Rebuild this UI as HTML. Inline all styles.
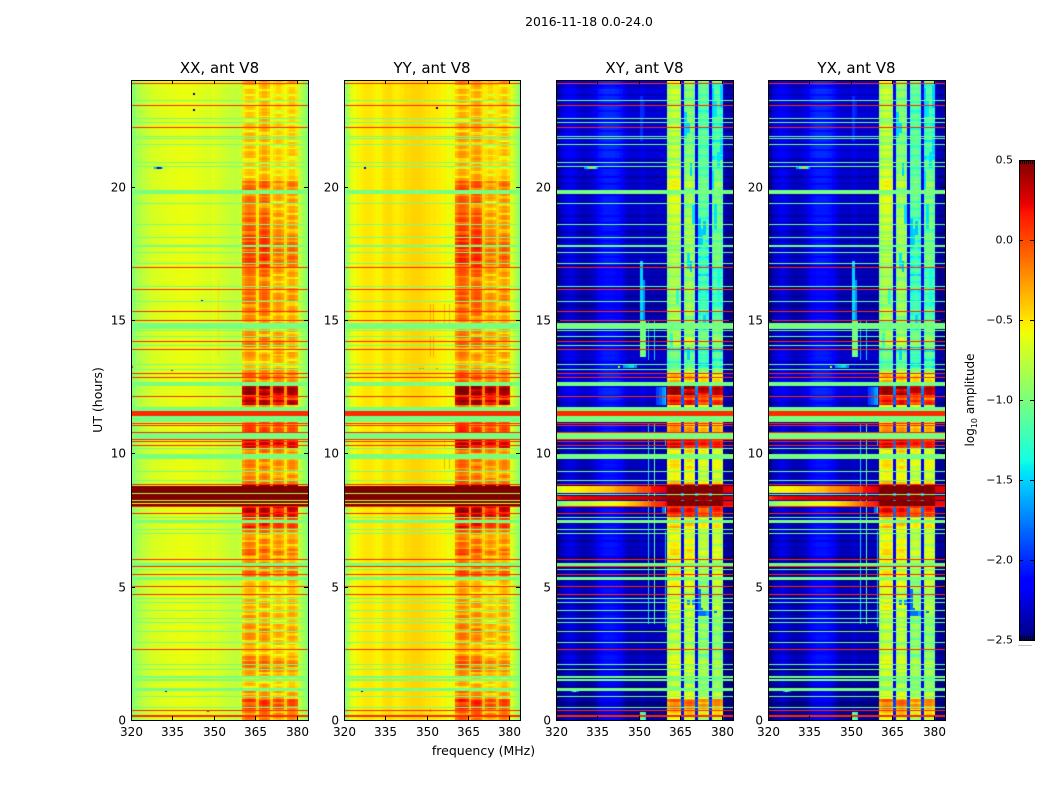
<!DOCTYPE html>
<html>
<head>
<meta charset="utf-8">
<title>2016-11-18 0.0-24.0</title>
<style>
html,body{margin:0;padding:0;background:#fff;}
#figure{position:relative;width:1050px;height:800px;overflow:hidden;background:#fff;font-family:"DejaVu Sans","Liberation Sans",sans-serif;}
canvas{position:absolute;display:block;}
#axes-layer{position:absolute;left:0;top:0;}
text{font-family:"DejaVu Sans","Liberation Sans",sans-serif;fill:#000;}
</style>
</head>
<body>
<div id="figure">
<svg id="axes-layer" width="1050" height="800" viewBox="0 0 1050 800"></svg>
</div>
<script>
/* ---------- Axis labels ---------- */
const freqTicks = [320, 335, 350, 365, 380];
const utTicks = [0, 5, 10, 15, 20];
const cbarTicks = [0.5, 0, -0.5, -1, -1.5, -2, -2.5];
const panelTitles = ["XX, ant V8", "YY, ant V8", "XY, ant V8", "YX, ant V8"];

/* ---------- Channel spectra, log10 amplitude per 1 MHz channel from 320 MHz ---------- */
const xxSpectrum = [-.95,-.88,-.82,-.78,-.75,-.72,-.7,-.68,-.66,-.65,-.65,-.64,-.63,-.62,-.62,-.62,-.61,-.6,-.6,-.6,-.6,-.6,-.62,-.62,-.63,-.64,-.65,-.66,-.66,-.62,-.66,-.68,-.68,-.7,-.72,-.72,-.74,-.75,-.74,-.72,0,0,0,0,0,-.55,0,0,0,0,-.55,0,0,0,0,-.55,0,0,0,0,-.72,-.8,-.88,-.98];
const yySpectrum = [-.9,-.75,-.65,-.58,-.55,-.55,-.52,-.5,-.5,-.5,-.52,-.55,-.55,-.52,-.48,-.47,-.47,-.5,-.52,-.52,-.5,-.48,-.46,-.46,-.44,-.44,-.44,-.44,-.46,-.48,-.48,-.5,-.5,-.52,-.52,-.55,-.55,-.6,-.6,-.55,0,0,0,0,0,-.46,0,0,0,0,-.48,0,0,0,0,-.48,0,0,0,0,-.65,-.72,-.82,-.95];
const crossSpectrum = [-2.5,-2.4,-2.34,-2.3,-2.26,-2.26,-2.3,-2.34,-2.38,-2.4,-2.4,-2.38,-2.36,-2.32,-2.26,-2.18,-2.14,-2.12,-2.12,-2.12,-2.12,-2.14,-2.16,-2.2,-2.3,-2.36,-2.38,-2.38,-2.38,-2.38,-2.33,-2.33,-2.38,-2.38,-2.38,-2.38,-2.38,-2.38,-2.38,-2.38,0,0,0,0,0,-2.2,0,0,0,0,-2.2,0,0,0,0,-2.2,0,0,0,0,-2.42,-2.48,-2.48,-2.48];

/* ---------- Sub-band channel ranges: first and last channel ---------- */
const bandFirst = [40, 46, 51, 56];
const bandLast = [44, 49, 54, 59];
/* relative shape across channels 40..59 */
const bandChannelShape = [-.08,.02,.05,.03,-.04, 0, -.04,.04,.04,-.04, 0, -.04,.03,.03,-.04, 0, -.05,.03,.03,-.06];

/* ---------- Hourly sub-band levels ---------- */
const xxBand1 = [-.33,-.35,-.33,-.33,-.33,-.35,-.32,-.3,-.3,-.3,-.3,-.3,-.3,-.38,-.32,-.3,-.28,-.24,-.22,-.28,-.4,-.4,-.42,-.42];
const xxBand2 = [-.31,-.33,-.33,-.33,-.33,-.35,-.3,-.28,-.3,-.3,-.3,-.3,-.3,-.38,-.32,-.27,-.24,-.2,-.18,-.24,-.34,-.36,-.34,-.36];
const xxBand3 = [-.38,-.42,-.4,-.42,-.42,-.42,-.38,-.36,-.35,-.35,-.35,-.35,-.35,-.38,-.38,-.42,-.42,-.38,-.4,-.44,-.46,-.46,-.46,-.46];
const xxBand4 = [-.38,-.42,-.42,-.4,-.36,-.36,-.38,-.36,-.35,-.35,-.35,-.35,-.35,-.42,-.42,-.42,-.42,-.38,-.42,-.4,-.44,-.44,-.44,-.42];
const yyBandShift = [.08,.03,.0,.03];
const crossBand1 = [-.7,-.78,-.78,-.8,-.72,-.66,-.66,-.7,-.62,-.62,-.62,-.62,-.62,-1.05,-.98,-.88,-.88,-.82,-.78,-.72,-.72,-.78,-.78,-.78];
const crossBand2 = [-.72,-.82,-.82,-.82,-.8,-.72,-.66,-.72,-.62,-.62,-.62,-.62,-.62,-1,-.98,-.92,-.88,-.88,-.88,-.92,-.92,-1,-1,-1];
const crossBand3 = [-.85,-.95,-.95,-.95,-.98,-.95,-.85,-.85,-.78,-.78,-.72,-.72,-.72,-1.18,-1.18,-1.26,-1.22,-1.22,-1.18,-1.14,-1.12,-1.14,-1.14,-1.14];
const crossBand4 = [-.82,-.95,-.98,-.98,-.9,-.82,-.8,-.8,-.72,-.72,-.72,-.72,-.72,-1.12,-1.12,-1.18,-1.18,-1.04,-1.04,-1.04,-1.08,-1.22,-1.22,-1.22];

/* ---------- Hourly off-band offset for cross-hands ---------- */
const crossHourBackground = [-.06,-.06,.02,.02,.02,-.04,.02,.02,.02,.02,.02,.05,.1,.05,0,0,0,.05,.05,.05,.06,.1,.1,.1];

/* ---------- In-band activity per 0.2 h row (hundredths of a dex) ---------- */
const parallelActivity = [15,15,35,35, 5,10,-5,-10,0, 15,20,10,-5,-10, 0,5,10,5,-5, 5,-5,0,-5,-8, -8,-8,0,25,10, 10,5,20,5,10, 0,15,40,30,55, 60,90,90,90,90, 15,10,0,10,10, 0,15,55,55,10, 30,25,0,0,0, 65,45,70,80,10, 20,10,-5,0,10, -5,15,10,5,0, 0,5,10,10,15, 15,10,5,5,10, 15,20,25,20,25, 25,20,15,10,10, 10,5,5,10,10, 15,25,0,-5,-5, -5,0,0,-5,0, 0,-5,0,-5,-5, -5,-5,-5,-5,-5, 10];
const crossActivity = [5,30,60,60, 5,10,0,-5,5, 10,15,5,0,0, 0,0,5,5,0, 5,10,15,5,0, 0,5,5,15,5, 10,5,15,5,5, 0,10,30,20,80, 90,120,120,120,120, 20,0,0,10,10, 0,15,85,85,10, 35,30,0,0,0, 80,65,100,115,25, 25,15,-15,-10,0, -20,25,20,10,0, 0,0,5,0,0, -5,0,0,0,-5, 0,-5,0,0,-5, 0,0,0,0,5, 0,0,0,5,0, 5,15,0,0,-5, 0,-5,0,0,-5, 0,0,-5,0,0, -5,0,0,5,0, 15];

const fineStripes = [3,5,2,-16,4,6,3,1,-14,-18,5,7,2,4,-12,3,8,5,-20,2,6,1,4,-15,5,3,7,-10,-17,4,2,6,3,-13,5,8,1,-16,3,6,2];

/* ---------- RFI burst spectra near 8.0 to 8.8 h (cross-hands) ---------- */
const crossBurstUpper = [-.72,-.68,-.58,-.55,-.55,-.55,-.55,-.54,-.52,-.5,-.5,-.46,-.45,-.45,-.44,-.43,-.42,-.4,-.38,-.38,-.35,-.28,-.25,-.24,-.22,-.2,-.18,-.16,-.14,-.05,-.03,0,0,.02,.18,.2,.2,.22,.24,.3,.5,.5,.5,.5,.5,.5,.5,.5,.5,.5,.5,.5,.5,.5,.5,.5,.5,.5,.5,.5,.25,.25,.25,.25];
const crossBurstMiddle = [.05,.12,.18,.2,.2,.22,.22,.22,.22,.24,.24,.24,.24,.24,.26,.26,.26,.26,.26,.28,.28,.28,.28,.3,.3,.3,.3,.3,.3,.32,.32,.32,.32,.34,.34,.36,.36,.38,.4,.42,.45,.45,.45,.45,.45,.45,.45,.45,.45,.45,.45,.45,.45,.45,.45,.45,.45,.45,.45,.45,.28,.28,.28,.28];
const crossBurstLower = [-1.05,-.98,-.92,-.84,-.8,-.8,-.78,-.78,-.76,-.75,-.75,-.74,-.72,-.68,-.65,-.62,-.62,-.6,-.6,-.6,-.58,-.56,-.54,-.52,-.5,-.46,-.4,-.38,-.35,-.3,-.25,-.2,-.16,-.1,0,.04,.08,.1,.14,.2,.5,.5,.5,.5,.5,.5,.5,.5,.5,.5,.5,.5,.5,.5,.5,.5,.5,.5,.5,.5,.2,.2,.2,.2];
const parallelBurstLevel = [0.5];
const parallelBurstHours = [8.0, 8.78];
const crossBurstHours = [8.51, 8.76, 8.26, 8.41, 8.03, 8.2];
const parallelBurstLineHours = [8.48, 8.24, 8.11];
const parallelBurstLineLevels = [-.85, -.75, -.6];

/* ---------- Flagged rows (hours UT), all panels ---------- */
const redRowHours = [23.875,23.05,22.22,16.97,16.16,15.32,14.99,14.19,13.9,12.99,12.84,12.14,11.13,11.05,10.79,10.51,10.45,10.29,8.84,8.0,7.75,6.03,5.76,5.46,5.0,4.71,2.65,.35,.15];
const greenRowHours = [23.22,22.55,22.41,21.89,21.79,21.59,20.9,20.76,19.36,18.59,18.1,17.54,17.13,16.26,15.69,14.62,14.37,14.06,13.34,13.15,10.17,9.32,8.99,7.6,7.15,7.0,5.63,4.56,4.41,4.1,3.81,3.65,3.33,2.9,2.09,1.9,1.5,.88,.48];
const greenBlockStart = [19.72,17.75,14.65,12.54,11.59,11.18,10.54,9.79,7.38,5.78,5.25,1.59,1.09];
const greenBlockEnd = [19.88,17.81,14.9,12.69,11.74,11.4,10.75,9.96,7.5,5.88,5.35,1.66,1.19];
const redBlockStart = [11.4];
const redBlockEnd = [11.59];
const greenLevel = [-1.02];
const redLevel = [0.1];

/* ---------- Narrow features: channel, start hour, end hour, level ---------- */
const xxFeatures = [[31,13.6,16.5,-.48],[8,20.65,20.75,-1.6],[9,20.65,20.75,-2.5],[10,20.65,20.75,-2.0],[11,20.65,20.75,-.95],[22,23.45,23.5,-2.5],[22,22.85,22.9,-2.5],[14,13.1,13.16,.2],[25,15.7,15.76,-2.2],[12,1.05,1.1,-2.2],[0,13.2,13.26,.1],[27,0.3,0.35,.2]];
const yyFeatures = [[31,13.6,14.4,-.3],[32,13.6,14.4,-.3],[31,14.9,15.6,-.3],[32,14.9,15.6,-.3],[36,14.9,15.6,-.35],[38,14.9,15.6,-.35],[36,9.4,9.8,-.32],[38,9.4,9.8,-.32],[36,10.2,10.8,-.4],[7,20.65,20.72,-2.4],[33,22.9,23,-2.4],[33,13.15,13.2,-.2],[27,13.15,13.2,-.2],[28,13.15,13.2,-.2],[6,1.05,1.1,-2.2],[31,.3,.4,-.2]];
const crossFeatures = [[36,11.8,12.5,-1.95],[37,11.8,12.5,-1.85],[38,11.8,12.5,-1.7],[39,11.8,12.5,-1.5],[38,7.75,8,-1.8],[39,7.75,8,-1.3],[39,10.29,10.5,-1.5],
[30,13.6,15,-1],[31,13.6,15,-1],[32,13.6,15,-1.2],[33,13.5,15,-1.6],[35,13.5,15,-1.5],[33,3.6,11.1,-1.5],[35,3.6,11.1,-1.1],[39,3.5,7.1,-1.6],[30,15,17.2,-1.5],[31,15,16.5,-1.7],[30,21.7,23.4,-2.0],[31,22.6,23.2,-2.05],[30,0,.3,-1.1],[31,0,.3,-1.2],[32,0,.3,-1.4],[10,20.65,20.75,-1.7],[11,20.65,20.75,-1.4],[12,20.65,20.75,-.4],[13,20.65,20.75,-1.2],[14,20.65,20.75,-1.7],[5,1.05,1.15,-1.7],[6,1.05,1.15,-1.1],[7,1.05,1.15,-1.7],[22,13.2,13.26,-.8],[24,13.2,13.3,-1.7],[25,13.2,13.3,-1.6],[26,13.2,13.3,-1.5],[27,13.2,13.3,-1.5],[28,13.2,13.3,-1.7],
[56,22.6,23.7,-1.5],[57,22.6,23.2,-1.45],[59,23,23.8,-1.5],[46,21.8,22.8,-1.5],[47,22,22.4,-1.5],[49,18.6,19.3,-1.45],[51,17.7,18.8,-1.55],[52,17.8,18.4,-1.5],[53,18.2,18.7,-1.55],[57,18.4,19.4,-1.45],[47,16.9,17.5,-1.45],[48,16.8,17.2,-1.55],[58,15.5,17,-1.35],[41,14,14.5,-1.35],[47,13.5,14,-1.5],[43,15.6,16.2,-1.3],[56,19.9,20.6,-1.45],[51,3.9,4.9,-1.8],[52,3.9,4.2,-1.8],[53,3.9,4.1,-1.8],[54,3.9,4.1,-1.6],[57,4,4.1,-1.8],[47,4.3,4.5,-1.7],[49,4.3,4.5,-1.7],[59,21.2,21.9,-1.5],[58,20.7,21.3,-1.45],[48,20.4,20.9,-1.5],[53,14.6,15.2,-1.5]];
const xxThinChannels = [31];
const yyThinChannels = [31,32,36,38];
const crossThinChannels = [32,33,35,39];

/* ---------- Scales and colormap ---------- */
const vMin = -2.5, vMax = 0.5, fMin = 320, fMax = 384, tMax = 24, rowHours = 0.2, subRows = 3;
const plotTop = 80, plotBottom = 720, channelShift = 0.3;
function timeY(t){ return plotBottom - (t / tMax) * (plotBottom - plotTop); }
function freqX(p, f){ return p.left + (f - fMin) / (fMax - fMin) * p.width; }
function clamp01(x){ return Math.max(0, Math.min(1, x)); }
function jet(v){
  const n = clamp01((v - vMin) / (vMax - vMin));
  const r = n < .35 ? 0 : n < .66 ? (n - .35) / .31 : n < .89 ? 1 : 1 - (n - .89) / .11 * .5;
  const g = n < .125 ? 0 : n < .375 ? (n - .125) / .25 : n < .64 ? 1 : n < .91 ? 1 - (n - .64) / .27 : 0;
  const b = n < .11 ? .5 + n / .11 * .5 : n < .34 ? 1 : n < .65 ? 1 - (n - .34) / .31 : 0;
  return "rgb(" + Math.round(r * 255) + "," + Math.round(g * 255) + "," + Math.round(b * 255) + ")";
}
function bandOf(k){
  for (let i = 0; i < bandFirst.length; i++) if (k >= bandFirst[i] && k <= bandLast[i]) return i;
  return -1;
}
function isGap(k){ return k > bandFirst[0] && k < bandLast[3] && bandOf(k) < 0; }

const parallelTrends = [xxBand1, xxBand2, xxBand3, xxBand4];
const crossTrends = [crossBand1, crossBand2, crossBand3, crossBand4];

const panels = [
  {id:"xx", left:131, width:177, spectrum:xxSpectrum, trends:parallelTrends, activity:parallelActivity, shift:[0,0,0,0], features:xxFeatures, thin:xxThinChannels, cross:false},
  {id:"yy", left:344, width:176, spectrum:yySpectrum, trends:parallelTrends, activity:parallelActivity, shift:yyBandShift, features:yyFeatures, thin:yyThinChannels, cross:false},
  {id:"xy", left:556, width:177, spectrum:crossSpectrum, trends:crossTrends, activity:crossActivity, shift:[0,0,0,0], features:crossFeatures, thin:crossThinChannels, cross:true},
  {id:"yx", left:768, width:177, spectrum:crossSpectrum, trends:crossTrends, activity:crossActivity, shift:[0,0,0,0], features:crossFeatures, thin:crossThinChannels, cross:true}
];

const figure = document.getElementById("figure");
const svg = document.getElementById("axes-layer");
const NS = "http://www.w3.org/2000/svg";

function cellValue(p, k, row, sub){
  const t = (row + .5) * rowHours;
  const hour = Math.min(23, Math.floor(t));
  const a = p.activity[row] / 100;
  const band = bandOf(k);
  if (band >= 0) {
    const stripe = fineStripes[(row * subRows + sub + band * 7) % fineStripes.length] / 100;
    return p.trends[band][hour] + p.shift[band] + a + stripe + bandChannelShape[k - bandFirst[0]];
  }
  if (isGap(k)) return p.spectrum[k] + a * (p.cross ? .45 : .45);
  if (p.cross) {
    const stripe = fineStripes[(row * subRows + sub) % fineStripes.length] / 100;
    return p.spectrum[k] + crossHourBackground[hour] + stripe * .5;
  }
  return p.spectrum[k];
}
function hourRect(ctx, t0, t1, x0, x1){
  const y0 = Math.round(timeY(t1)) - plotTop, y1 = Math.round(timeY(t0)) - plotTop;
  ctx.fillRect(x0, y0, x1 - x0, Math.max(1, y1 - y0));
}

function drawPanel(p){
  const cv = document.createElement("canvas");
  
  
  cv.width = p.width; cv.height = plotBottom - plotTop;
  cv.style.left = p.left + "px"; cv.style.top = plotTop + "px";
  figure.insertBefore(cv, svg);
  const ctx = cv.getContext("2d");
  const W = p.width;
  const channels = p.spectrum.length;
  const chanX = k => k <= 0 ? 0 : k >= channels ? W : Math.round((k + channelShift) / channels * W);
  const rows = p.activity.length;
  for (let r = 0; r < rows; r++) {
    for (let s = 0; s < subRows; s++) {
      const y1 = Math.round(timeY((r + s / subRows) * rowHours)) - plotTop;
      const y0 = Math.round(timeY((r + (s + 1) / subRows) * rowHours)) - plotTop;
      for (let k = 0; k < channels; k++) {
        ctx.fillStyle = jet(cellValue(p, k, r, s));
        ctx.fillRect(chanX(k), y0, chanX(k + 1) - chanX(k), y1 - y0);
      }
    }
  }
  p.features.forEach(function(f){
    ctx.fillStyle = jet(f[3]);
    const x0 = chanX(f[0]);
    let x1 = chanX(f[0] + 1);
    if (f[2] - f[1] < .09) x1 = x0 + 2;
    else if (p.thin.indexOf(f[0]) >= 0) x1 = x0 + 1;
    hourRect(ctx, f[1], f[2], x0, x1);
  });
  if (p.cross) {
    [crossBurstUpper, crossBurstMiddle, crossBurstLower].forEach(function(s, i){
      for (let k = 0; k < channels; k++) {
        ctx.fillStyle = jet(s[k]);
        hourRect(ctx, crossBurstHours[i * 2], crossBurstHours[i * 2 + 1], chanX(k), chanX(k + 1));
      }
    });
    ctx.fillStyle = jet(-1);
    hourRect(ctx, 8.43, 8.48, 0, W);
  } else {
    ctx.fillStyle = jet(parallelBurstLevel[0]);
    hourRect(ctx, parallelBurstHours[0], parallelBurstHours[1], 0, W);
    for (let i = 0; i < parallelBurstLineHours.length; i++) {
      ctx.fillStyle = jet(parallelBurstLineLevels[i]);
      hourRect(ctx, parallelBurstLineHours[i] - .02, parallelBurstLineHours[i] + .02, 0, W);
    }
  }
  ctx.fillStyle = jet(greenLevel[0]);
  for (let i = 0; i < greenBlockStart.length; i++) hourRect(ctx, greenBlockStart[i], greenBlockEnd[i], 0, W);
  greenRowHours.forEach(function(t){ hourRect(ctx, t - .02, t + .02, 0, W); });
  ctx.fillStyle = jet(redLevel[0]);
  for (let i = 0; i < redBlockStart.length; i++) hourRect(ctx, redBlockStart[i], redBlockEnd[i], 0, W);
  redRowHours.forEach(function(t){ hourRect(ctx, t - .02, t + .02, 0, W); });
}

function addLine(x1, y1, x2, y2, name){
  const l = document.createElementNS(NS, "line");
  l.setAttribute("x1", x1); l.setAttribute("y1", y1);
  l.setAttribute("x2", x2); l.setAttribute("y2", y2);
  l.setAttribute("stroke", "#000"); l.setAttribute("stroke-width", "1");
  
  
  svg.appendChild(l);
}
function addText(x, y, str, size, anchor, name, rotate){
  const t = document.createElementNS(NS, "text");
  t.setAttribute("x", x); t.setAttribute("y", y);
  t.setAttribute("font-size", size); t.setAttribute("text-anchor", anchor);
  if (rotate) t.setAttribute("transform", "rotate(-90 " + x + " " + y + ")");
  t.textContent = str;
  
  
  svg.appendChild(t);
  return t;
}
function addFrame(x, y, w, h, name){
  const r = document.createElementNS(NS, "rect");
  r.setAttribute("x", x + .5); r.setAttribute("y", y + .5);
  r.setAttribute("width", w); r.setAttribute("height", h);
  r.setAttribute("fill", "none"); r.setAttribute("stroke", "#000");
  
  
  svg.appendChild(r);
}

panels.forEach(function(p, idx){
  drawPanel(p);
  const L = p.left, R = p.left + p.width;
  addFrame(L, plotTop, p.width, plotBottom - plotTop, p.id + "-frame");
  freqTicks.forEach(function(f){
    const x = Math.round(freqX(p, f)) + .5;
    addLine(x, plotBottom, x, plotBottom - 4, p.id + "-x-tick-bottom");
    addLine(x, plotTop, x, plotTop + 4, p.id + "-x-tick-top");
    addText(x, plotBottom + 16, String(f), 12, "middle", p.id + "-x-tick-label");
  });
  utTicks.forEach(function(t){
    const y = Math.round(timeY(t)) + .5;
    addLine(L, y, L + 4, y, p.id + "-y-tick-left");
    addLine(R, y, R - 4, y, p.id + "-y-tick-right");
    addText(L - 5, y + 4, String(t), 12, "end", p.id + "-y-tick-label");
  });
  addText(L + p.width / 2, 73, panelTitles[idx], 15, "middle", p.id + "-title");
});

addText(589, 26, "2016-11-18 0.0-24.0", 12.4, "middle", "figure-title");
addText(483.5, 755, "frequency (MHz)", 12.5, "middle", "x-axis-title");
addText(102, 400, "UT (hours)", 12.5, "middle", "y-axis-title", true);

/* ---------- Colorbar ---------- */
const cbLeft = 1019, cbWidth = 15, cbTop = 160, cbBottom = 640;
const cb = document.createElement("canvas");


cb.width = cbWidth; cb.height = cbBottom - cbTop;
cb.style.left = cbLeft + "px"; cb.style.top = cbTop + "px";
figure.insertBefore(cb, svg);
const cbCtx = cb.getContext("2d");
for (let y = 0; y < cb.height; y++) {
  cbCtx.fillStyle = jet(vMax - (y + .5) / cb.height * (vMax - vMin));
  cbCtx.fillRect(0, y, cbWidth, 1);
}
addFrame(cbLeft, cbTop, cbWidth, cbBottom - cbTop, "colorbar-frame");
function cbY(v){ return cbTop + (vMax - v) / (vMax - vMin) * (cbBottom - cbTop); }
cbarTicks.forEach(function(v){
  const y = Math.round(cbY(v)) + .5;
  addLine(cbLeft, y, cbLeft + 4, y, "colorbar-tick-left");
  addLine(cbLeft + cbWidth - 4, y, cbLeft + cbWidth, y, "colorbar-tick-right");
  const label = (v < 0 ? "\u2212" : "") + Math.abs(v).toFixed(1);
  addText(1013, y + 3, label, 11, "end", "colorbar-tick-label");
});
for (let i = 0; i < 7; i++) {
  const x = cbLeft + 1.5 + i * 2;
  addLine(x, cbTop, x, cbTop + 4, "colorbar-minor-tick-top");
  addLine(x, cbBottom, x, cbBottom - 4, "colorbar-minor-tick-bottom");
  const dot = document.createElementNS(NS, "rect");
  dot.setAttribute("x", x - 2); dot.setAttribute("y", 645);
  dot.setAttribute("width", 1); dot.setAttribute("height", 1);
  dot.setAttribute("fill", "#888");
  
  
  svg.appendChild(dot);
}
const cbTitle = addText(974, 400, "log", 12, "middle", "colorbar-title", true);
const sub = document.createElementNS(NS, "tspan");
sub.setAttribute("font-size", "8"); sub.setAttribute("dy", "3");
sub.textContent = "10";
cbTitle.appendChild(sub);
const rest = document.createElementNS(NS, "tspan");
rest.setAttribute("dy", "-3");
rest.textContent = " amplitude";
cbTitle.appendChild(rest);
</script>
</body>
</html>
